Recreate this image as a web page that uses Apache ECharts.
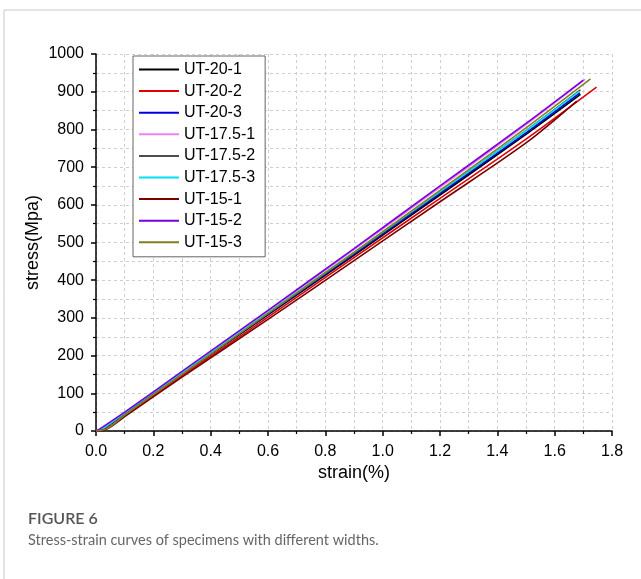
<!DOCTYPE html>
<html>
<head>
<meta charset="utf-8">
<script src="https://cdn.jsdelivr.net/npm/echarts@6/dist/echarts.min.js"></script>
<style>
  html, body { margin: 0; padding: 0; background: #fff; }
  #chart { width: 641px; height: 579px; }
</style>
</head>
<body>
<div id="chart"></div>
<script>
// specimen names and colours as in the legend
const names = ['UT-20-1', 'UT-20-2', 'UT-20-3', 'UT-17.5-1', 'UT-17.5-2', 'UT-17.5-3', 'UT-15-1', 'UT-15-2', 'UT-15-3']
const colors = ['#000000', '#e00000', '#0000dd', '#f080f0', '#4d4d4d', '#00e0f0', '#7a0000', '#7a00e0', '#808020']

// [strain %, stress MPa]
const ut20_1 = [[0, 0], [0.03, 8], [0.1, 45], [0.3, 150], [0.6, 308], [0.9, 466], [1.2, 626], [1.5, 787], [1.69, 893]]
const ut20_2 = [[0, 0], [0.04, 8], [0.1, 40], [0.3, 146], [0.6, 302], [0.9, 460], [1.2, 617], [1.5, 774], [1.746, 912]]
const ut20_3 = [[0, 0], [0.03, 9], [0.1, 46], [0.3, 152], [0.6, 310], [0.9, 469], [1.2, 630], [1.5, 791], [1.688, 897]]
const ut175_1 = [[0, 0], [0.03, 10], [0.1, 48], [0.3, 156], [0.6, 318], [0.9, 481], [1.2, 646], [1.5, 813], [1.706, 933]]
const ut175_2 = [[0, 0], [0.03, 9], [0.1, 46], [0.3, 153], [0.6, 312], [0.9, 472], [1.2, 634], [1.5, 797], [1.69, 905]]
const ut175_3 = [[0, 0], [0.03, 10], [0.1, 48], [0.3, 155], [0.6, 314], [0.9, 474], [1.2, 635], [1.5, 796], [1.685, 900]]
const ut15_1 = [[0, 0], [0.04, 6], [0.1, 38], [0.3, 143], [0.6, 296], [0.9, 452], [1.2, 608], [1.5, 764], [1.677, 875]]
const ut15_2 = [[0, 0], [0.02, 9], [0.1, 50], [0.3, 158], [0.6, 320], [0.9, 484], [1.2, 650], [1.5, 816], [1.70, 931]]
const ut15_3 = [[0, 0], [0.04, 7], [0.1, 42], [0.3, 150], [0.6, 312], [0.9, 474], [1.2, 638], [1.5, 804], [1.725, 934]]
const curves = [ut20_1, ut20_2, ut20_3, ut175_1, ut175_2, ut175_3, ut15_1, ut15_2, ut15_3]

const figTitle = 'FIGURE 6'
const figCaption = 'Stress-strain curves of specimens with different widths.'

const font = 'Liberation Sans, Arial, sans-serif'
let myChart = echarts.init(document.getElementById('chart'))

const axisCommon = {
  axisLine: { show: true, onZero: false, lineStyle: { color: '#000', width: 1.5 } },
  axisTick: { show: true, inside: false, length: 5, lineStyle: { color: '#000', width: 1.5 } },
  minorTick: { show: true, splitNumber: 2, length: 3, lineStyle: { color: '#000', width: 1.2 } },
  splitLine: { show: true, lineStyle: { color: '#cfcfcf', type: [3, 3], width: 1 } },
  minorSplitLine: { show: true, lineStyle: { color: '#cfcfcf', type: [3, 3], width: 1 } },
  axisLabel: { color: '#000', fontSize: 16, fontFamily: font }
}

myChart.setOption({
  animation: false,
  grid: { left: 96, right: 29, top: 54, bottom: 148 },
  legend: {
    orient: 'vertical',
    left: 133,
    top: 56,
    data: names,
    icon: 'rect',
    itemWidth: 40,
    itemHeight: 2,
    itemGap: 4.6,
    padding: [5, 10, 6, 6],
    borderColor: '#666',
    borderWidth: 1,
    backgroundColor: '#fff',
    textStyle: { color: '#000', fontSize: 16, fontFamily: font, lineHeight: 17, padding: [0, 0, 0, 0] }
  },
  xAxis: Object.assign({}, axisCommon, {
    type: 'value',
    min: 0,
    max: 1.8,
    interval: 0.2,
    name: 'strain(%)',
    nameLocation: 'middle',
    nameGap: 33,
    nameMoveOverlap: false,
    nameTextStyle: { color: '#000', fontSize: 18, fontFamily: font },
    axisLabel: Object.assign({}, axisCommon.axisLabel, { margin: 13, formatter: v => v.toFixed(1) })
  }),
  yAxis: Object.assign({}, axisCommon, {
    type: 'value',
    min: 0,
    max: 1000,
    interval: 100,
    name: 'stress(Mpa)',
    nameLocation: 'middle',
    nameGap: 54,
    nameMoveOverlap: false,
    nameTextStyle: { color: '#000', fontSize: 18, fontFamily: font },
    axisLabel: Object.assign({}, axisCommon.axisLabel, { margin: 12, formatter: v => String(v) })
  }),
  series: names.map((n, i) => ({
    name: n,
    type: 'line',
    data: curves[i],
    showSymbol: false,
    symbol: 'none',
    smooth: 0.3,
    color: colors[i],
    lineStyle: { width: 1.6, color: colors[i] }
  })),
  graphic: [
    { type: 'line', shape: { x1: 4, y1: 10, x2: 641, y2: 10 }, style: { stroke: '#c8c8c8', lineWidth: 1 } },
    { type: 'line', shape: { x1: 4, y1: 10, x2: 4, y2: 579 }, style: { stroke: '#c8c8c8', lineWidth: 1 } },
    { type: 'text', left: 28, top: 511, style: { text: figTitle, fill: '#555', font: '600 16px Lato, sans-serif' } },
    { type: 'text', left: 28, top: 533, style: { text: figCaption, fill: '#666', font: '14.5px Lato, sans-serif' } }
  ]
})
window.onresize = function () {
  myChart.resize()
}
</script>
</body>
</html>
